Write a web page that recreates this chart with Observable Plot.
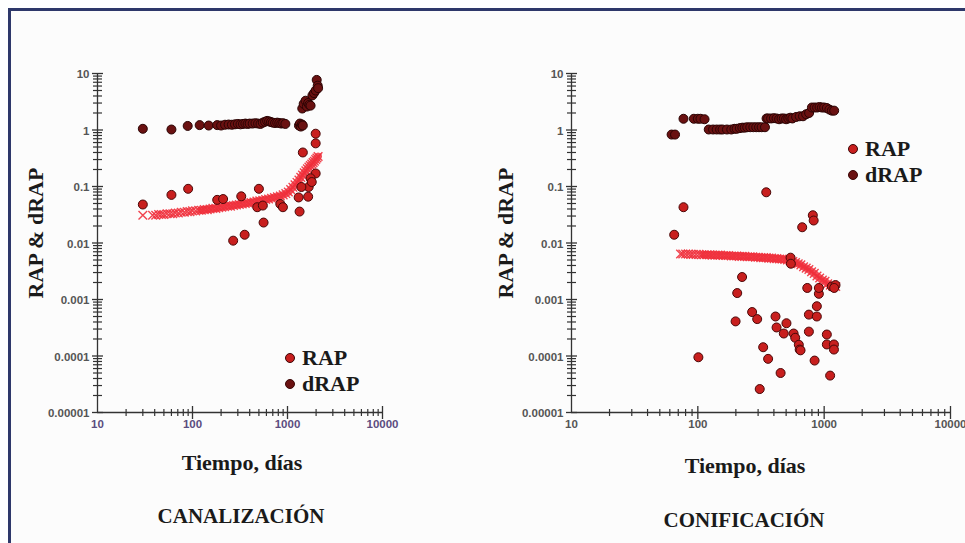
<!DOCTYPE html>
<html><head><meta charset="utf-8">
<script src="https://cdn.jsdelivr.net/npm/d3@7"></script>
<script src="https://cdn.jsdelivr.net/npm/@observablehq/plot@0.6"></script>
<style>
body{margin:0;background:#fff;}
#wrap{position:relative;width:965px;height:543px;overflow:hidden;background:#fff;}
#frame{position:absolute;left:8px;top:8px;width:980px;height:560px;border-top:3px solid #2e386a;border-left:3px solid #2e386a;background:#fcfcfc;}
.t{position:absolute;font-family:"Liberation Serif","Times New Roman",serif;font-weight:bold;color:#1a1a1a;white-space:nowrap;transform:translate(-50%,-50%);}
.yl{transform:translate(-50%,-50%) rotate(-90deg);}
.leg{position:absolute;font-family:"Liberation Serif",serif;font-weight:bold;font-size:22px;color:#1a1a1a;line-height:26px;}
.leg div{display:flex;align-items:center;height:26px;}
.mk{display:inline-block;width:8px;height:8px;border-radius:50%;margin-right:7px;border:1px solid #3a0606;}
.plot{position:absolute;top:0;}
</style></head>
<body><div id="wrap"><div id="frame"></div></div>
<script>
// ---------- data: CANALIZACIÓN (left) ----------
const canDrapT = [30,60,89,119,148,182,200,220,240,260,280,300,320,340,360,380,400,430,460,490,520,550,580,610,640,670,700,740,780,820,860,900,950,1320,1350,1380,1420,1450,1430,1480,1550,1600,1650,1700,1750,1830,1900,1980,2030,2080,2100];
const canDrapV = [1.05,1.02,1.18,1.22,1.2,1.22,1.2,1.24,1.25,1.24,1.26,1.28,1.26,1.28,1.3,1.28,1.3,1.3,1.32,1.3,1.28,1.35,1.4,1.45,1.42,1.38,1.35,1.33,1.35,1.33,1.3,1.32,1.28,1.2,1.3,1.15,1.25,1.2,2.4,2.9,3.3,2.6,3.0,2.8,2.7,4.1,4.5,5.0,7.7,6.1,5.5];
const canRapT = [30,60,90,182,210,268,354,326,500,480,560,550,840,895,1310,1340,1650,1450,1980,1980,1980,1750,1670,1400,1800];
const canRapV = [0.048,0.071,0.091,0.058,0.06,0.011,0.014,0.067,0.091,0.043,0.023,0.046,0.049,0.043,0.064,0.036,0.066,0.40,0.86,0.58,0.17,0.14,0.098,0.098,0.12];
const canModelT = [30,38,41,44,47,50,54,58,62,66,71,76,82,88,94,100,108,116,124,133,143,153,164,176,189,203,218,234,251,270,290,311,334,359,385,413,444,476,511,549,589,632,679,729,782,840,900,960,1020,1080,1140,1200,1260,1320,1380,1440,1500,1560,1620,1680,1740,1800,1860,1920,1980,2040,2100];
const canModelV = [0.031,0.031,0.031,0.032,0.032,0.032,0.033,0.033,0.033,0.034,0.034,0.035,0.035,0.036,0.036,0.037,0.037,0.038,0.038,0.039,0.039,0.040,0.041,0.041,0.042,0.043,0.044,0.045,0.045,0.046,0.047,0.048,0.049,0.050,0.051,0.052,0.053,0.055,0.056,0.057,0.059,0.060,0.062,0.064,0.066,0.068,0.071,0.075,0.080,0.088,0.097,0.107,0.118,0.13,0.145,0.16,0.175,0.19,0.205,0.22,0.235,0.25,0.265,0.28,0.30,0.32,0.34];

// ---------- data: CONIFICACIÓN (right) ----------
const conDrapT = [62,66,77,93,100,105,113,122,132,141,150,157,170,184,195,203,215,225,235,246,260,275,290,305,320,340,350,360,380,400,420,440,460,480,500,520,540,560,600,640,680,720,760,800,840,880,920,960,1000,1050,1100,1150,1200];
const conDrapV = [0.83,0.83,1.58,1.58,1.58,1.58,1.55,1.02,1.02,1.02,1.02,1.02,1.02,1.02,1.05,1.05,1.08,1.1,1.1,1.12,1.12,1.12,1.12,1.12,1.12,1.12,1.6,1.6,1.6,1.62,1.6,1.55,1.6,1.6,1.55,1.6,1.65,1.6,1.7,1.75,1.75,1.9,2.0,2.5,2.5,2.5,2.55,2.5,2.5,2.45,2.3,2.2,2.2];
const conRapT = [65,77,101,199,205,224,269,295,309,329,348,360,412,420,452,479,503,542,545,573,590,630,640,650,670,735,757,757,813,826,840,875,875,908,908,1050,1050,1115,1195,1195,1150,1230,1200];
const conRapV = [0.014,0.043,0.000095,0.00041,0.0013,0.0025,0.0006,0.00045,0.000026,0.000143,0.079,0.000089,0.0005,0.00032,0.00005,0.00025,0.00038,0.0055,0.0043,0.00025,0.00021,0.000158,0.00013,0.000126,0.019,0.0016,0.00054,0.00027,0.031,0.025,0.000083,0.00076,0.0005,0.00126,0.0016,0.00024,0.00016,0.000045,0.00016,0.00013,0.0017,0.0018,0.0016];
const conModelT = [73,76,80,84,88,92,97,102,107,112,118,124,130,137,144,151,159,167,175,184,193,203,213,224,235,247,259,272,286,300,315,331,348,365,383,402,422,443,465,488,512,538,565,593,623,654,687,721,757,795,835,877,921,967,1015,1066,1119,1175,1234];
const conModelV = [0.0064,0.0064,0.0064,0.0064,0.0063,0.0063,0.0063,0.0063,0.0062,0.0062,0.0062,0.0062,0.0061,0.0061,0.0061,0.0061,0.0060,0.0060,0.0060,0.0059,0.0059,0.0059,0.0058,0.0058,0.0058,0.0057,0.0057,0.0057,0.0056,0.0056,0.0055,0.0055,0.0055,0.0054,0.0054,0.0053,0.0053,0.0052,0.0052,0.0051,0.0050,0.0049,0.0047,0.0045,0.0043,0.0041,0.0038,0.0036,0.0034,0.0031,0.0029,0.0026,0.0024,0.0022,0.0021,0.0019,0.0018,0.0017,0.0017];

// ---------- axis ticks ----------
const xMajor = [10,100,1000,10000];
const xMajorLabels = ["10","100","1000","10000"];
const yMajor = [0.00001,0.0001,0.001,0.01,0.1,1,10];
const yMajorLabels = ["0.00001","0.0001","0.001","0.01","0.1","1","10"];
const minorMult = [2,3,4,5,6,7,8,9];

const xMinor = xMajor.slice(0,3).flatMap(d => minorMult.map(m => d*m));
const yMinor = yMajor.slice(0,6).flatMap(d => minorMult.map(m => +(d*m).toPrecision(3)));

const zip = (T,V) => T.map((t,i) => ({t, v: V[i]}));

const hline = {draw(ctx, size){ const r = Math.sqrt(size/Math.PI); ctx.moveTo(-r,0); ctx.lineTo(r,0); }};
const vline = {draw(ctx, size){ const r = Math.sqrt(size/Math.PI); ctx.moveTo(0,-r); ctx.lineTo(0,r); }};

const COL_RAP = "#c81f1e", COL_DRAP = "#6a1111", COL_MODEL = "#f0303c";

function panel({width, marginLeft, marginRight, drap, rap, model, xLabelColor, bandFrom}) {
  return Plot.plot({
    width, height: 543,
    marginLeft, marginRight, marginTop: 73, marginBottom: 131,
    x: {type: "log", domain: [10, 10000], axis: null},
    y: {type: "log", domain: [0.00001, 10], axis: null},
    style: {background: "transparent", overflow: "visible", fontFamily: "'Liberation Sans', Arial, sans-serif"},
    marks: [
      Plot.ruleX([10], {stroke: "#333", strokeWidth: 1.3}),
      Plot.ruleY([0.00001], {stroke: "#333", strokeWidth: 1.3}),
      Plot.dot(yMinor, {y: d => d, frameAnchor: "left", symbol: hline, r: 4.5, stroke: "#333", fill: "none", strokeWidth: 1.2}),
      Plot.dot(yMajor, {y: d => d, frameAnchor: "left", symbol: hline, r: 5.5, stroke: "#333", fill: "none", strokeWidth: 1.3}),
      Plot.dot(xMinor, {x: d => d, frameAnchor: "bottom", symbol: vline, r: 3.5, stroke: "#333", fill: "none", strokeWidth: 1.2}),
      Plot.dot(xMajor.slice(1), {x: d => d, frameAnchor: "bottom", symbol: vline, r: 6.5, stroke: "#333", fill: "none", strokeWidth: 1.3}),
      Plot.text(yMajor, {y: d => d, frameAnchor: "left", text: (d,i) => yMajorLabels[i], textAnchor: "end", dx: -8, dy: 1, fill: "#555", fontSize: 11.5, fontWeight: "bold"}),
      Plot.text(xMajor, {x: d => d, frameAnchor: "bottom", text: (d,i) => xMajorLabels[i], dy: 15, fill: xLabelColor, fontSize: 11.5, fontWeight: "bold"}),
      Plot.line(model.filter(d => d.t >= bandFrom), {x: "t", y: "v", stroke: COL_MODEL, strokeWidth: 7.5, strokeOpacity: 0.85, curve: "linear"}),
      Plot.dot(model, {x: "t", y: "v", symbol: "times", r: 4, stroke: COL_MODEL, strokeWidth: 1.4, strokeOpacity: 0.9}),
      Plot.dot(drap, {x: "t", y: "v", r: 4.5, fill: COL_DRAP, stroke: "#2a0404", strokeWidth: 1}),
      Plot.dot(rap, {x: "t", y: "v", r: 4.5, fill: COL_RAP, stroke: "#4a0808", strokeWidth: 1})
    ]
  });
}

const wrap = document.getElementById("wrap");

const left = panel({width: 480, marginLeft: 97, marginRight: 98,
  drap: zip(canDrapT, canDrapV), rap: zip(canRapT, canRapV), model: zip(canModelT, canModelV),
  xLabelColor: "#5b4d80", bandFrom: 120});
left.classList.add("plot"); left.style.left = "0px";
wrap.appendChild(left);

const right = panel({width: 485, marginLeft: 91, marginRight: 15,
  drap: zip(conDrapT, conDrapV), rap: zip(conRapT, conRapV), model: zip(conModelT, conModelV),
  xLabelColor: "#555", bandFrom: 110});
right.classList.add("plot"); right.style.left = "480px";
wrap.appendChild(right);

function label(text, x, y, size, cls) {
  const d = document.createElement("div");
  d.className = "t" + (cls ? " " + cls : "");
  d.textContent = text;
  d.style.left = x + "px"; d.style.top = y + "px"; d.style.fontSize = size + "px";
  wrap.appendChild(d);
}
label("RAP & dRAP", 36, 233, 22, "yl");
label("RAP & dRAP", 506, 233, 22, "yl");
label("Tiempo, días", 242, 463, 22);
label("Tiempo, días", 745, 466, 22);
label("CANALIZACIÓN", 241, 516, 21);
label("CONIFICACIÓN", 744, 520, 21);

const legendLabels = ["RAP", "dRAP"];
const legendColors = [COL_RAP, COL_DRAP];
function legend(x, y) {
  const d = document.createElement("div");
  d.className = "leg";
  d.style.left = x + "px"; d.style.top = y + "px";
  legendLabels.forEach((name, i) => {
    const row = document.createElement("div");
    const m = document.createElement("span");
    m.className = "mk"; m.style.background = legendColors[i];
    row.appendChild(m);
    row.appendChild(document.createTextNode(name));
    d.appendChild(row);
  });
  wrap.appendChild(d);
}
legend(285, 345);
legend(848, 136);
</script>
</body></html>
